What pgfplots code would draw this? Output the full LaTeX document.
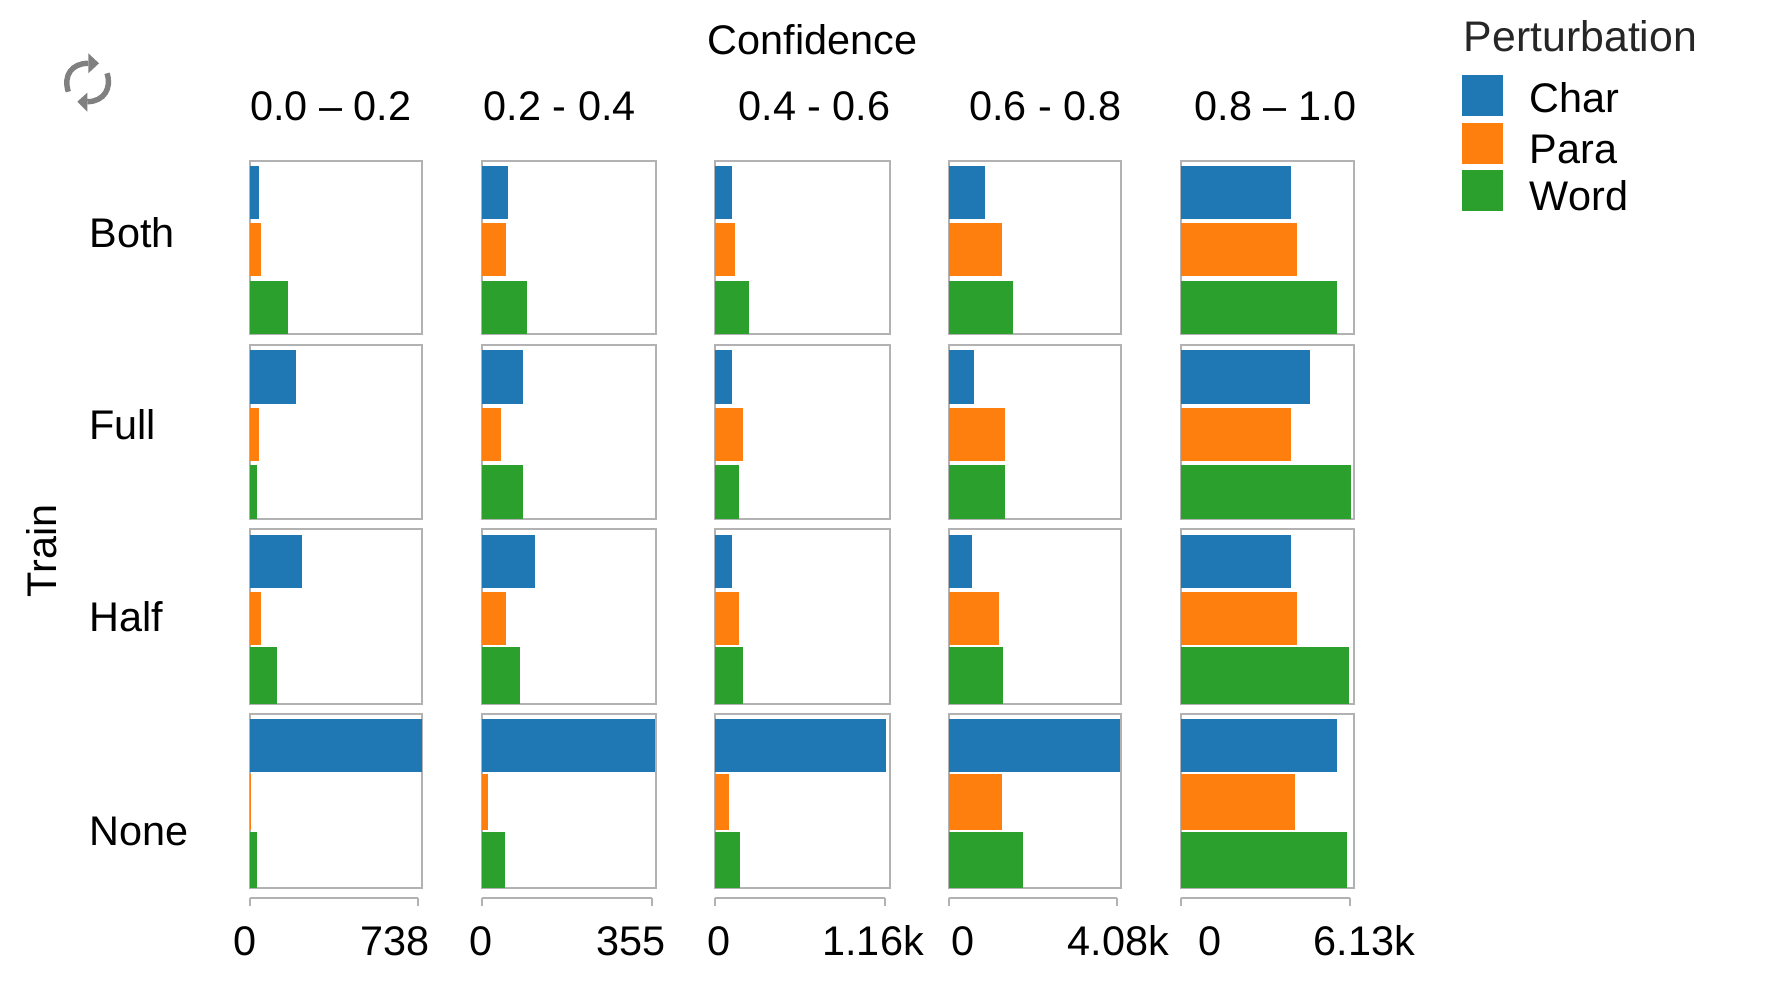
\documentclass[border=0pt]{standalone}
\usepackage{fontspec}
\setmainfont{Liberation Sans}
\usepackage{pgfplots}
\pgfplotsset{compat=1.18}
\definecolor{cchar}{HTML}{1F77B4}
\definecolor{cpara}{HTML}{FF7F0E}
\definecolor{cword}{HTML}{2CA02C}
\definecolor{frame}{HTML}{B2B2B2}
\newcommand{\lab}{\fontsize{20.7pt}{24pt}\selectfont}
% reference pixels are 0.5pt; origin is the top left corner of the page
\pgfplotsset{
  panel/.style={
    scale only axis, clip=false,
    xtick=\empty, ytick=\empty,
    y dir=reverse, ymin=0,
    axis line style={frame, line width=1pt},
    anchor=north west,
  },
  ticks/.style={
    scale only axis, height=4pt,
    ymin=0, ymax=1, ytick=\empty, xmin=0,
    axis y line=none, axis x line*=top,
    xticklabel pos=lower,
    axis line style={-, frame, line width=1pt},
    tick style={frame, line width=1pt},
    major tick length=4pt, tick align=inside,
    xticklabel style={font=\lab, inner sep=0pt, text height=14.6pt, text depth=0pt, anchor=north, yshift=-13.9pt},
    anchor=north west,
  },
  barc/.style={xbar, bar shift=0pt, fill=cchar, draw=none},
  barp/.style={xbar, bar shift=0pt, fill=cpara, draw=none},
  barw/.style={xbar, bar shift=0pt, fill=cword, draw=none},
}
% shifted tick label: #1 shift in pixels, #2 text
\newcommand{\tl}[2]{\makebox[0pt][c]{\kern#1pt #2}}
% \panel[extra]{left}{top}{width}{xmax}{char}{para}{word}
\newcommand{\panel}[8][]{%
  \begin{axis}[panel, at={(#2*0.5pt,-#3*0.5pt)}, width=#4*0.5pt, height=\rowh*0.5pt,
      xmin=0, xmax=#5, ymax=\rowh, #1]
    \addplot[barc, bar width=\hc*0.5pt] coordinates {(#6,\yc)};
    \addplot[barp, bar width=\hp*0.5pt] coordinates {(#7,\yp)};
    \addplot[barw, bar width=\hw*0.5pt] coordinates {(#8,\yw)};
  \end{axis}}
% row geometry in pixels from the panel's top edge
\newcommand{\rowgeom}[7]{\def\rowh{#1}\def\yc{#2}\def\hc{#3}\def\yp{#4}\def\hp{#5}\def\yw{#6}\def\hw{#7}}
\pgfplotsset{legendstyle/.style={
  legend entries={\raisebox{-1.7pt}{Char},\raisebox{-3.5pt}{Para},\raisebox{-3.8pt}{Word}},
  legend cell align=left,
  legend image code/.code={
    \fill[##1] (0pt,-11pt) rectangle (20.3pt,9.5pt);
    \path (34pt,0pt);
  },
  legend style={
    at={(1.62,1.494)}, anchor=north west, draw=none, fill=none, inner sep=0pt,
    font=\lab, row sep=3.1pt,
    nodes={inner sep=0pt, text height=14.6pt, text depth=0pt},
  },
}}
\begin{document}
\begin{tikzpicture}
  \useasboundingbox (0pt,0pt) rectangle (884pt,-494.5pt);
  % Both
  \rowgeom{173.6}{31.65}{53.3}{89.1}{53}{146.8}{53.6}
  \panel{249.7}{160.7}{172.5}{758}{40}{50}{168}
  \panel{481.5}{160.7}{174}{362}{56}{52}{95}
  \panel{714.5}{160.7}{175}{1190}{122}{138}{237}
  \panel{948.5}{160.7}{172.5}{4176}{874}{1283}{1570}
  \panel[legendstyle]{1180.5}{160.7}{173.5}{6273}{4012}{4216}{5641}
  % Full
  \rowgeom{173.7}{31.65}{53.3}{89.1}{53}{146.8}{53.6}
  \panel{249.7}{345.3}{172.5}{758}{203}{40}{32}
  \panel{481.5}{345.3}{174}{362}{86}{40}{86}
  \panel{714.5}{345.3}{175}{1190}{122}{191}{165}
  \panel{948.5}{345.3}{172.5}{4176}{628}{1378}{1378}
  \panel{1180.5}{345.3}{173.5}{6273}{4684}{4012}{6150}
  % Half
  \rowgeom{175}{32.35}{53.3}{89.5}{53}{146.7}{56.7}
  \panel{249.7}{529}{172.5}{758}{230}{50}{121}
  \panel{481.5}{529}{174}{362}{112}{52}{81}
  \panel{714.5}{529}{175}{1190}{122}{165}{191}
  \panel{948.5}{529}{172.5}{4176}{573}{1228}{1324}
  \panel{1180.5}{529}{173.5}{6273}{4012}{4216}{6090}
  % None
  \rowgeom{174}{31.65}{53.3}{88}{55.4}{145.85}{56.3}
  \panel{249.7}{714}{172.5}{758}{758}{7}{32}
  \panel{481.5}{714}{174}{362}{361}{13}{48}
  \panel{714.5}{714}{175}{1190}{1168}{96}{176}
  \panel{948.5}{714}{172.5}{4176}{4163}{1283}{1815}
  \panel{1180.5}{714}{173.5}{6273}{5641}{4154}{6008}
  % value scales under each column
  \begin{axis}[ticks, at={(249.7*0.5pt,-898.3*0.5pt)}, width=84pt, xmax=738,
      xtick={0,738}, xticklabels={\tl{-5.1}{0},\tl{-23.1}{738}}]
    \addplot[draw=none] coordinates {(0,0)};
  \end{axis}
  \begin{axis}[ticks, at={(481.5*0.5pt,-898.3*0.5pt)}, width=85.2pt, xmax=355,
      xtick={0,355}, xticklabels={\tl{0}{0},\tl{-21}{355}}]
    \addplot[draw=none] coordinates {(0,0)};
  \end{axis}
  \begin{axis}[ticks, at={(714.5*0.5pt,-898.3*0.5pt)}, width=85.3pt, xmax=1160,
      xtick={0,1160}, xticklabels={\tl{4.2}{0},\tl{-12}{1.16k}}]
    \addplot[draw=none] coordinates {(0,0)};
  \end{axis}
  \begin{axis}[ticks, at={(948.5*0.5pt,-898.3*0.5pt)}, width=84.2pt, xmax=4080,
      xtick={0,4080}, xticklabels={\tl{15}{0},\tl{1.6}{4.08k}}]
    \addplot[draw=none] coordinates {(0,0)};
  \end{axis}
  \begin{axis}[ticks, at={(1180.5*0.5pt,-898.3*0.5pt)}, width=84.8pt, xmax=6130,
      xtick={0,6130}, xticklabels={\tl{29.5}{0},\tl{14}{6.13k}}]
    \addplot[draw=none] coordinates {(0,0)};
  \end{axis}
  % texts and the reload icon, in reference pixels
  \begin{scope}[x=0.5pt, y=-0.5pt, every node/.style={font=\lab, inner sep=0pt}]
    \node[anchor=base] at (812.6,54.3) {Confidence};
    \node[anchor=base] at (331,120.7) {0.0 -- 0.2};
    \node[anchor=base] at (559.7,120.7) {0.2 - 0.4};
    \node[anchor=base] at (814.6,120.7) {0.4 - 0.6};
    \node[anchor=base] at (1045.2,120.7) {0.6 - 0.8};
    \node[anchor=base] at (1275.5,120.7) {0.8 -- 1.0};
    \node[anchor=base west] at (89,247.3) {Both};
    \node[anchor=base west] at (89,439.3) {Full};
    \node[anchor=base west] at (89,631.7) {Half};
    \node[anchor=base west] at (89,845.7) {None};
    \node[anchor=base, rotate=90] at (56,551) {Train};
    \node[anchor=base west, text=black!85, font=\fontsize{21.4pt}{24pt}\selectfont] at (1463.5,51.7) {Perturbation};
    \draw[black!50, line width=2.7pt] (68.3,91.7) .. controls (63,75) and (72,63.3) .. (88.3,63.3);
    \fill[black!50] (99,63.3) -- (88.3,53.3) -- (88.3,73.3) -- cycle;
    \draw[black!50, line width=2.7pt] (107,73.3) .. controls (112,88) and (104,101.7) .. (87.3,101.7);
    \fill[black!50] (77.3,101.7) -- (87.3,92.7) -- (87.3,111.7) -- cycle;
  \end{scope}
\end{tikzpicture}
\end{document}
